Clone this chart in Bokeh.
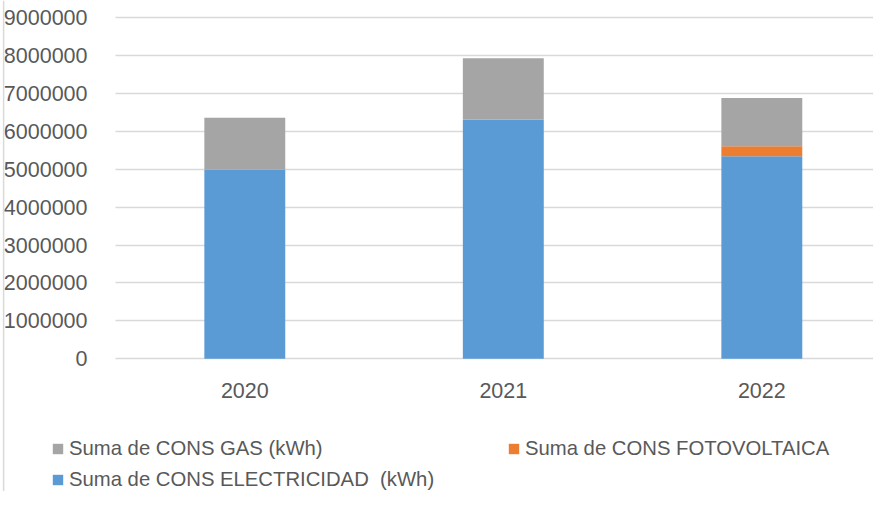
from bokeh.plotting import figure
from bokeh.models import (Range1d, FixedTicker, BasicTickFormatter, Legend,
                          LegendItem, ColumnDataSource, Span)
from bokeh.embed import file_html
from bokeh.resources import INLINE

# ---- data ----
years = ["2020", "2021", "2022"]
electricidad = [4983000, 6310000, 5340000]
fotovoltaica = [0, 0, 265000]
gas = [1371000, 1615000, 1275000]
y_ticks = [0, 1000000, 2000000, 3000000, 4000000, 5000000,
           6000000, 7000000, 8000000, 9000000]
series_names = ["Suma de CONS ELECTRICIDAD  (kWh)",
                "Suma de CONS FOTOVOLTAICA",
                "Suma de CONS GAS (kWh)"]
colors = ["#5b9bd5", "#ed7d31", "#a5a5a5"]

FONT = "Liberation Sans"
TXT = "#595959"
GRID = "#d9d9d9"

x_pos = list(range(len(years)))
source = ColumnDataSource(dict(x=x_pos, elec=electricidad,
                               foto=fotovoltaica, gas=gas))

# frame covers the whole figure; axes are pinned inside it so the legend
# area below the plot is not clipped
W, H = 873, 491
X0, X1 = -0.945, 2.432
p = figure(width=W, height=H, output_backend="svg", toolbar_location=None,
           x_range=Range1d(X0, X1), y_range=Range1d(-3499000, 9448000),
           min_border=0)
p.outline_line_color = None
p.background_fill_color = "white"
p.border_fill_color = "white"

renderers = p.vbar_stack(["elec", "foto", "gas"], x="x", width=0.313,
                         fill_color=colors, line_color=None, source=source)

# axes
p.xaxis.ticker = FixedTicker(ticks=x_pos)
p.xaxis.major_label_overrides = {i: y for i, y in zip(x_pos, years)}
p.xaxis.fixed_location = 0
p.xaxis.bounds = (-0.5, X1)
p.yaxis.ticker = FixedTicker(ticks=y_ticks)
p.yaxis.formatter = BasicTickFormatter(use_scientific=False)
p.yaxis.fixed_location = -0.5
p.yaxis.bounds = (0, 9000000)
for ax in (p.xaxis[0], p.yaxis[0]):
    ax.axis_line_color = None
    ax.major_tick_line_color = None
    ax.minor_tick_line_color = None
    ax.major_label_text_font = FONT
    ax.major_label_text_font_size = "21.5px"
    ax.major_label_text_color = TXT
p.yaxis.major_label_standoff = 22
p.xaxis.major_label_standoff = 18

p.xgrid.grid_line_color = None
p.ygrid.grid_line_color = GRID
p.ygrid.grid_line_width = 1.5
p.ygrid.ticker = FixedTicker(ticks=y_ticks)
p.ygrid.bounds = (0, 9000000)
p.ygrid.cross_bounds = (-0.5, X1)

# thin chart-area border at the left edge
p.add_layout(Span(location=X0 + 0.012, dimension="height",
                  line_color=GRID, line_width=1.5))

# legends (three single-item legends positioned like the reference)
legend_specs = [
    (renderers[2], series_names[2], (51, 31)),
    (renderers[1], series_names[1], (507, 31)),
    (renderers[0], series_names[0], (51, 0)),
]
for r, name, loc in legend_specs:
    lg = Legend(items=[LegendItem(label=name, renderers=[r])], location=loc,
                padding=0, margin=0, border_line_color=None,
                background_fill_alpha=0, glyph_width=13, glyph_height=13,
                label_standoff=5, label_height=22, label_text_font=FONT,
                label_text_font_size="20.3px", label_text_color=TXT)
    p.add_layout(lg, "center")

open("out.html", "w").write(file_html(p, INLINE))
